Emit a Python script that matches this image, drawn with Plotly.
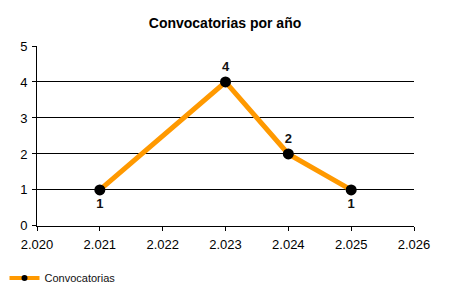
import plotly.graph_objects as go

years = [2021, 2023, 2024, 2025]
counts = [1, 4, 2, 1]
label_pos = ["bottom center", "top center", "top center", "bottom center"]
x_ticks = [2020, 2021, 2022, 2023, 2024, 2025, 2026]
x_tick_labels = ["2.020", "2.021", "2.022", "2.023", "2.024", "2.025", "2.026"]
y_ticks = [0, 1, 2, 3, 4, 5]

fig = go.Figure()
fig.add_trace(go.Scatter(
    x=years, y=counts, mode="lines+markers+text", name="Convocatorias",
    line=dict(color="#FF9900", width=5),
    marker=dict(color="black", size=11),
    text=[str(c) for c in counts], textposition=label_pos,
    textfont=dict(family="Liberation Sans, Arial", size=13, color="#111111", weight="bold"),
    cliponaxis=False, showlegend=False,
))
# legend entry with small marker like the reference
fig.add_trace(go.Scatter(
    x=[None], y=[None], mode="lines+markers", name="Convocatorias",
    line=dict(color="#FF9900", width=4),
    marker=dict(color="black", size=6),
))

fig.update_layout(
    width=450, height=300,
    margin=dict(l=37, r=36, t=46, b=72),
    paper_bgcolor="white", plot_bgcolor="white",
    title=dict(text="<b>Convocatorias por año</b>", x=0.5, xanchor="center",
               y=1 - 23/300, yanchor="middle", xref="container", yref="container",
               font=dict(family="Liberation Sans, Arial", size=14, color="black")),
    font=dict(family="Liberation Sans, Arial", size=12, color="black"),
    showlegend=True,
    legend=dict(orientation="h", xref="container", yref="container",
                x=0.01, y=22/300, xanchor="left", yanchor="middle",
                font=dict(size=11, color="#111111"), itemwidth=30,
                bgcolor="rgba(0,0,0,0)"),
)
fig.update_xaxes(range=[2020, 2026], tickvals=x_ticks, ticktext=x_tick_labels,
                 showgrid=False, showline=True, linecolor="black", linewidth=1,
                 ticks="outside", ticklen=4, tickcolor="black", zeroline=False,
                 tickfont=dict(size=13), ticklabelstandoff=2)
fig.update_yaxes(range=[0, 5], tickvals=y_ticks, showgrid=True, gridcolor="black",
                 gridwidth=1, showline=True, linecolor="black", linewidth=1,
                 ticks="outside", ticklen=4, tickcolor="black", zeroline=False,
                 tickfont=dict(size=13), ticklabelstandoff=2)

fig.write_html("out.html")
